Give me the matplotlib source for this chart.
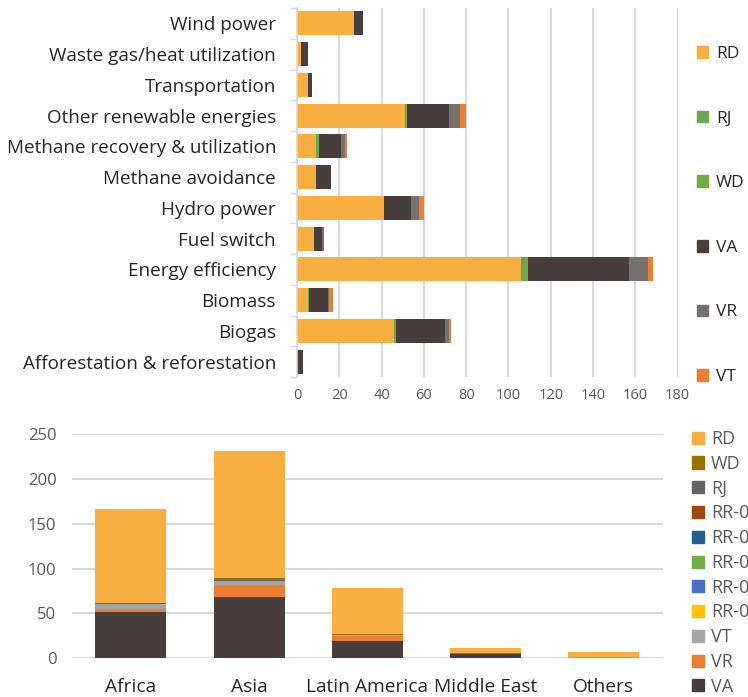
#!/usr/bin/env python3

import numpy as np
import matplotlib
matplotlib.use('Agg')
import matplotlib.pyplot as plt
from matplotlib.patches import Patch

plt.rcParams['font.family'] = ['Open Sans', 'DejaVu Sans']

# Datos grafica superior (tipo de proyecto)
tipos = ['Wind power', 'Waste gas/heat utilization', 'Transportation',
         'Other renewable energies', 'Methane recovery & utilization',
         'Methane avoidance', 'Hydro power', 'Fuel switch',
         'Energy efficiency', 'Biomass', 'Biogas',
         'Afforestation & reforestation']
sup_RD = [27, 2, 5, 51, 9, 9, 41, 8, 106, 5, 46, 0]
sup_RJ = [0, 0, 0, 0.5, 0.6, 0, 0, 0, 1.6, 0.4, 0.5, 0]
sup_WD = [0, 0, 0, 0.7, 0.7, 0, 0, 0, 1.7, 0.5, 0.5, 0]
sup_VA = [4, 3, 2, 19.7, 10.5, 7, 12.7, 3.9, 47.7, 9, 22.8, 2.8]
sup_VR = [0, 0, 0, 5, 2, 0, 3.8, 1, 9, 0.3, 1.9, 0]
sup_VT = [0, 0, 0, 3.2, 1, 0, 2.4, 0, 2.2, 2, 1.1, 0]

# Datos grafica inferior (region)
regiones = ['Africa', 'Asia', 'Latin America', 'Middle East', 'Others']
inf_VA = [51.3, 68.3, 19.3, 4.4, 0]
inf_VR = [3.7, 13.4, 5.9, 0, 0]
inf_VT = [5.2, 4.8, 1.3, 0, 1]
inf_RR_a = [0, 0, 0, 0, 0]
inf_RR_b = [0, 0, 0, 0, 0]
inf_RR_c = [0, 0, 0, 0, 0]
inf_RR_d = [0, 0, 0, 0, 0]
inf_RR_e = [0, 0, 0, 0, 0]
inf_RJ = [1.4, 0.6, 0, 0, 0]
inf_WD = [0, 2.1, 0.9, 1.1, 0]
inf_RD = [105.2, 142.2, 51.3, 6, 6]

gris_rejilla = '#d9d9d9'
gris_texto = '#595959'
negro_texto = '#262626'

fig = plt.figure(figsize=(7.48, 6.97), dpi=100)

# Grafica superior
ax1 = fig.add_axes([0.397, 0.459, 0.509, 0.5295])
series_sup = [('RD', sup_RD, '#F9AE40'), ('RJ', sup_RJ, '#6AA84F'),
              ('WD', sup_WD, '#70AD47'), ('VA', sup_VA, '#483E3D'),
              ('VR', sup_VR, '#767171'), ('VT', sup_VT, '#ED7D31')]
ys = np.arange(len(tipos))
izq = np.zeros(len(tipos))
for nombre, vals, color in series_sup:
    ax1.barh(ys, vals, left=izq, height=0.78, color=color, label=nombre)
    izq += np.array(vals)

ax1.set_ylim(len(tipos) - 0.5, -0.5)
ax1.set_xlim(0, 180)
ax1.set_xticks(np.arange(0, 181, 20))
ax1.set_yticks(ys)
ax1.set_yticklabels(tipos, fontsize=13.6, color=negro_texto)
ax1.set_yticks(np.arange(-0.5, len(tipos)), minor=True)
ax1.tick_params(axis='y', which='major', length=0, pad=15)
ax1.tick_params(axis='y', which='minor', length=5, color=gris_rejilla,
                width=1)
ax1.tick_params(axis='x', length=0, labelsize=10.5, labelcolor=gris_texto,
                pad=8)
ax1.grid(axis='x', color=gris_rejilla, linewidth=1.5)
ax1.set_axisbelow(True)
for lado in ['top', 'right', 'bottom']:
    ax1.spines[lado].set_visible(False)
ax1.spines['left'].set_color(gris_rejilla)
ax1.spines['left'].set_linewidth(1.2)

fig.legend(handles=[Patch(color=c, label=n) for n, v, c in series_sup],
           loc='upper left', bbox_to_anchor=(0.932, 0.934),
           frameon=False, fontsize=12.5, handlelength=0.65,
           handleheight=0.65, handletextpad=0.45, labelspacing=2.8,
           borderpad=0, borderaxespad=0, labelcolor=negro_texto)

# Grafica inferior
ax2 = fig.add_axes([0.096, 0.0555, 0.79, 0.3218])
series_inf = [('VA', inf_VA, '#483E3D'), ('VR', inf_VR, '#ED7D31'),
              ('VT', inf_VT, '#A5A5A5'), ('RR-0', inf_RR_a, '#FFC000'),
              ('RR-0', inf_RR_b, '#4472C4'), ('RR-0', inf_RR_c, '#70AD47'),
              ('RR-0', inf_RR_d, '#255E91'), ('RR-0', inf_RR_e, '#9E480E'),
              ('RJ', inf_RJ, '#636363'), ('WD', inf_WD, '#997300'),
              ('RD', inf_RD, '#F9AE40')]
xs = np.arange(len(regiones))
base = np.zeros(len(regiones))
for nombre, vals, color in series_inf:
    ax2.bar(xs, vals, bottom=base, width=0.6, color=color, label=nombre)
    base += np.array(vals)

ax2.set_xlim(-0.5, len(regiones) - 0.5)
ax2.set_ylim(0, 250)
ax2.set_yticks(np.arange(0, 251, 50))
ax2.set_xticks(xs)
ax2.set_xticklabels(regiones, fontsize=13.8, color=negro_texto)
ax2.tick_params(axis='x', length=0, pad=14)
ax2.tick_params(axis='y', length=0, labelsize=12, labelcolor=gris_texto,
                pad=11)
ax2.grid(axis='y', color=gris_rejilla, linewidth=1.5)
ax2.set_axisbelow(True)
for lado in ['top', 'right', 'left', 'bottom']:
    ax2.spines[lado].set_visible(False)

fig.legend(handles=[Patch(color=c, label=n) for n, v, c in series_inf[::-1]],
           loc='upper left', bbox_to_anchor=(0.925, 0.383),
           frameon=False, fontsize=13, handlelength=0.65,
           handleheight=0.65, handletextpad=0.4, labelspacing=0.375,
           borderpad=0, borderaxespad=0, labelcolor=gris_texto)

plt.savefig('out.png', dpi=100)
